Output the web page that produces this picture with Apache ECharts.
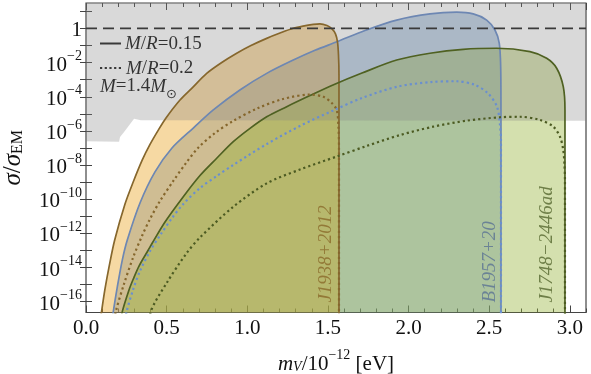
<!DOCTYPE html>
<html>
<head>
<meta charset="utf-8">
<script src="https://cdn.jsdelivr.net/npm/echarts@6/dist/echarts.min.js"></script>
<style>
  html, body { margin: 0; padding: 0; background: #fff; }
  #chart { width: 591px; height: 374px; }
</style>
</head>
<body>
<div id="chart"></div>
<script>
// m_V in units of 1e-12 eV, second entry is log10(sigma/sigma_EM)
const j1938Solid = [[0.0899,-17.07],[0.0961,-16.60],[0.1178,-15.25],[0.1426,-13.97],[0.1779,-12.39],[0.2418,-10.28],[0.2914,-9.02],[0.3490,-7.70],[0.3968,-6.79],[0.4482,-5.95],[0.4960,-5.24],[0.5828,-4.19],[0.6572,-3.49],[0.7483,-2.63],[0.8370,-2.02],[0.9343,-1.45],[1.0229,-1.00],[1.1203,-0.58],[1.2027,-0.27],[1.2852,0.01],[1.3453,0.14],[1.4092,0.24],[1.4507,0.27],[1.4941,0.17],[1.5251,-0.03],[1.5468,-0.32],[1.5592,-0.79],[1.5654,-1.55],[1.5685,-2.73],[1.5685,-17.65]];
const b1957Solid = [[0.1643,-17.07],[0.1693,-16.58],[0.1940,-15.14],[0.2250,-13.56],[0.2560,-12.39],[0.3348,-10.22],[0.4278,-8.40],[0.5332,-7.00],[0.6652,-5.83],[0.7892,-4.77],[0.9541,-3.60],[1.1203,-2.63],[1.2852,-1.85],[1.4197,-1.28],[1.5561,-0.78],[1.7297,-0.12],[1.9262,0.49],[2.1327,0.85],[2.2982,0.95],[2.4011,0.85],[2.4842,0.49],[2.5356,-0.09],[2.5623,-0.87],[2.5710,-2.24],[2.5728,-4.77],[2.5728,-17.65]];
const j1748Solid = [[0.2201,-17.07],[0.2250,-16.58],[0.2666,-15.31],[0.2932,-14.67],[0.3286,-13.91],[0.3862,-12.97],[0.4110,-12.56],[0.4898,-11.33],[0.6032,-9.85],[0.7068,-8.61],[0.8103,-7.60],[0.9132,-6.63],[1.0167,-5.85],[1.1203,-5.17],[1.2443,-4.58],[1.3887,-3.93],[1.5313,-3.31],[1.7111,-2.61],[1.9262,-1.85],[2.1327,-1.45],[2.3391,-1.22],[2.5462,-1.16],[2.7526,-1.36],[2.8562,-1.75],[2.9181,-2.33],[2.9591,-3.41],[2.9696,-4.77],[2.9696,-17.65]];

const j1938Dotted = [[0.1798,-17.07],[0.1841,-16.60],[0.2356,-14.96],[0.2932,-13.38],[0.3472,-12.15],[0.3968,-11.16],[0.4588,-10.10],[0.5412,-8.93],[0.6200,-7.88],[0.6944,-7.00],[0.7998,-6.12],[0.9114,-5.42],[1.0601,-4.69],[1.2213,-4.13],[1.3887,-3.87],[1.4712,-4.00],[1.5232,-4.36],[1.5543,-4.77],[1.5654,-5.77],[1.5685,-7.12],[1.5685,-17.65]];
const b1957Dotted = [[0.2449,-17.07],[0.2511,-16.60],[0.2914,-15.31],[0.3348,-14.20],[0.3968,-13.03],[0.4650,-12.03],[0.5332,-11.10],[0.6032,-10.28],[0.7068,-9.34],[0.8103,-8.64],[0.9132,-7.99],[1.1203,-6.77],[1.3267,-5.71],[1.5332,-4.80],[1.7111,-4.07],[1.9343,-3.40],[2.1389,-3.14],[2.2982,-3.09],[2.4117,-3.31],[2.4923,-3.80],[2.5481,-4.58],[2.5667,-5.65],[2.5728,-6.53],[2.5728,-17.65]];
const j1748Dotted = [[0.3968,-17.07],[0.4011,-16.60],[0.5003,-14.90],[0.6243,-13.15],[0.7068,-12.24],[0.9132,-10.44],[1.1203,-9.07],[1.3267,-8.26],[1.5543,-7.50],[1.7402,-6.88],[1.9473,-6.24],[2.1531,-5.75],[2.3602,-5.40],[2.5667,-5.20],[2.6906,-5.17],[2.8146,-5.36],[2.8971,-5.75],[2.9386,-6.34],[2.9591,-7.12],[2.9665,-7.99],[2.9696,-8.87],[2.9696,-17.65]];

// lower edge of the grey excluded band
const greyEdge = [[0,-6.6],[0.205,-6.64],[0.211,-6.35],[0.236,-6.06],[0.298,-5.28],[0.34,-5.38],[3.1,-5.40]];
const unityLine = [[0,0],[3.1,0]];

const pulsarNames = ['J1938+2012', 'B1957+20', 'J1748\u22122446ad'];
const labelX = [1.489, 2.505, 2.861];
const labelExp = -16.05;

const yTickExps = [-16,-15,-14,-13,-12,-11,-10,-9,-8,-7,-6,-5,-4,-3,-2,-1,0,1];
const yLabelExps = [-16,-14,-12,-10,-8,-6,-4,-2,0];

const serif = 'Liberation Serif, Times New Roman, serif';
const toVal = arr => arr.map(p => [p[0], Math.pow(10, p[1])]);

const chart = echarts.init(document.getElementById('chart'));

const areaSeries = (data, fill, stroke) => ({
  type: 'line', data: toVal(data), symbol: 'none', smooth: 0.3,
  lineStyle: { color: stroke, width: 1.7 },
  areaStyle: { color: fill, origin: 'start', opacity: 1 }
});
const dottedSeries = (data, stroke) => ({
  type: 'line', data: toVal(data), symbol: 'none', smooth: 0.3, z: 4,
  lineStyle: { color: stroke, width: 2.2, type: [2.2, 3] }
});

const xBase = {
  type: 'value', min: 0, max: 3.1,
  splitLine: { show: false }, axisLine: { show: false },
  axisLabel: { show: false }
};
const tick = len => ({ inside: true, length: len, lineStyle: { color: '#444', width: 1 } });

const yBase = {
  type: 'log', min: Math.pow(10, -16.63), max: Math.pow(10, 1.49),
  splitLine: { show: false }, axisLine: { show: false },
  axisTick: Object.assign(tick(6), { customValues: yTickExps.map(e => Math.pow(10, e)) })
};

chart.setOption({
  animation: false,
  grid: { left: 86, right: 5, top: 3, bottom: 61.5, show: true, borderColor: '#444', borderWidth: 1.2, outerBoundsMode: 'none' },
  xAxis: [
    Object.assign({}, xBase, {
      position: 'bottom', interval: 0.5, axisTick: tick(7),
      axisLabel: { show: true, showMaxLabel: false, formatter: v => v.toFixed(1), fontFamily: serif, fontSize: 21, color: '#111', margin: 5 },
      name: '{i|m}{isub|V}{t|/10}{sup|\u221212}{t| [eV]}',
      nameLocation: 'middle', nameGap: 36,
      nameTextStyle: {
        fontFamily: serif, color: '#111',
        rich: {
          i: { fontFamily: serif, fontStyle: 'italic', fontSize: 21, lineHeight: 26, verticalAlign: 'bottom', color: '#111' },
          t: { fontFamily: serif, fontSize: 21, lineHeight: 26, verticalAlign: 'bottom', color: '#111' },
          isub: { fontFamily: serif, fontStyle: 'italic', fontSize: 14, lineHeight: 14, verticalAlign: 'bottom', color: '#111' },
          sup: { fontFamily: serif, fontSize: 14, lineHeight: 14, verticalAlign: 'top', color: '#111' }
        }
      }
    }),
    Object.assign({}, xBase, { position: 'bottom', interval: 0.1, axisTick: tick(4) }),
    Object.assign({}, xBase, { position: 'top', interval: 0.5, axisTick: tick(7) }),
    Object.assign({}, xBase, { position: 'top', interval: 0.1, axisTick: tick(4) })
  ],
  yAxis: [
    Object.assign({}, yBase, {
      position: 'left',
      axisLabel: {
        customValues: yLabelExps.map(e => Math.pow(10, e)),
        margin: 4,
        formatter: v => {
          const n = Math.round(Math.log10(v));
          return n === 0 ? '{b|1}' : '{b|10}{sup|\u2212' + (-n) + '}';
        },
        rich: {
          b: { fontFamily: serif, fontSize: 21, lineHeight: 26, verticalAlign: 'bottom', color: '#111' },
          sup: { fontFamily: serif, fontSize: 14, lineHeight: 14, verticalAlign: 'top', color: '#111' }
        }
      },
      name: '{i|\u03c3}{t|/}{i|\u03c3}{sub|EM}',
      nameLocation: 'middle', nameRotate: 90, nameGap: 60,
      nameTextStyle: {
        rich: {
          i: { fontFamily: serif, fontStyle: 'italic', fontSize: 25, lineHeight: 30, verticalAlign: 'bottom', color: '#111' },
          t: { fontFamily: serif, fontSize: 25, lineHeight: 30, verticalAlign: 'bottom', color: '#111' },
          sub: { fontFamily: serif, fontSize: 16, lineHeight: 16, verticalAlign: 'bottom', color: '#111' }
        }
      }
    }),
    Object.assign({}, yBase, { position: 'right', axisLabel: { show: false } })
  ],
  graphic: [
    { type: 'line', shape: { x1: 100, y1: 43.5, x2: 121, y2: 43.5 }, style: { stroke: '#1a1a1a', lineWidth: 2 } },
    { type: 'text', x: 125, y: 44, style: { text: '{i|M}{t|/}{i|R}{t|=0.15}', verticalAlign: 'middle',
      rich: { i: { font: 'italic 19px ' + serif, fill: '#111' }, t: { font: '19px ' + serif, fill: '#111' } } } },
    { type: 'line', shape: { x1: 100, y1: 68, x2: 121, y2: 68 }, style: { stroke: '#1a1a1a', lineWidth: 2, lineDash: [2.2, 2.5] } },
    { type: 'text', x: 126, y: 68.5, style: { text: '{i|M}{t|/}{i|R}{t|=0.2}', verticalAlign: 'middle',
      rich: { i: { font: 'italic 19px ' + serif, fill: '#111' }, t: { font: '19px ' + serif, fill: '#111' } } } },
    { type: 'text', x: 100, y: 89, style: { text: '{i|M}{t|=1.4}{i|M}{s|\u2299}', verticalAlign: 'middle',
      rich: {
        i: { font: 'italic 19px ' + serif, fill: '#111', lineHeight: 24, verticalAlign: 'top' },
        t: { font: '19px ' + serif, fill: '#111', lineHeight: 24, verticalAlign: 'top' },
        s: { font: '13px DejaVu Sans', fill: '#111', lineHeight: 13, verticalAlign: 'bottom' }
      } } }
  ],
  series: [
    areaSeries(b1957Solid, 'rgba(93,138,188,0.4)', '#6d87b3'),
    areaSeries(j1938Solid, 'rgba(232,160,25,0.4)', '#86672d'),
    areaSeries(j1748Solid, 'rgba(148,178,53,0.4)', '#4f6122'),
    {
      type: 'line', data: toVal(greyEdge), symbol: 'none', z: 3,
      lineStyle: { width: 0 },
      areaStyle: { color: 'rgba(128,128,128,0.3)', origin: 'end', opacity: 1 }
    },
    {
      type: 'line', data: toVal(unityLine), symbol: 'none', z: 4,
      lineStyle: { color: '#3a3a3a', width: 1.7, type: [11, 6] }
    },
    dottedSeries(j1938Dotted, '#85662c'),
    dottedSeries(b1957Dotted, '#6a8fcf'),
    dottedSeries(j1748Dotted, '#4c5b22'),
    {
      type: 'scatter', symbolSize: 0, z: 5,
      data: pulsarNames.map((n, i) => ({
        name: n, value: [labelX[i], Math.pow(10, labelExp)],
        label: { color: ['#8a6a2a', '#5b7394', '#55662e'][i] }
      })),
      label: {
        show: true, formatter: '{b}', rotate: 90, position: 'inside',
        align: 'left', verticalAlign: 'middle',
        fontFamily: serif, fontStyle: 'italic', fontSize: 19
      }
    }
  ]
});
</script>
</body>
</html>
